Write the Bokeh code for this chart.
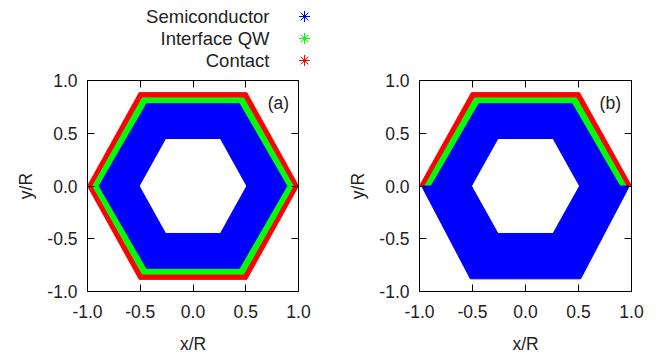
from bokeh.plotting import figure
from bokeh.layouts import column, row
from bokeh.models import Range1d, LinearAxis, FixedTicker, NumeralTickFormatter
from bokeh.core.properties import value
from bokeh.embed import file_html
from bokeh.resources import INLINE

FONT = "Liberation Sans"

# Region labels and colours
REGIONS = ["Semiconductor", "Interface QW", "Contact"]
COLORS = ["#0000ff", "#00ff00", "#ff0000"]

# Axis ticks
TICKS = [-1.0, -0.5, 0.0, 0.5, 1.0]

# (a): full hexagonal shell, vertex outlines (x/R, y/R)
CONTACT_OUT_X = [-1.0, -0.51, 0.51, 1.0, 0.51, -0.51]
CONTACT_OUT_Y = [0.0, 0.885, 0.885, 0.0, -0.885, -0.885]
QW_OUT_X = [-0.95, -0.48, 0.48, 0.95, 0.48, -0.48]
QW_OUT_Y = [0.0, 0.835, 0.835, 0.0, -0.835, -0.835]
CORE_OUT_X = [-0.89, -0.44, 0.44, 0.89, 0.44, -0.44]
CORE_OUT_Y = [0.0, 0.78, 0.78, 0.0, -0.78, -0.78]
HOLE_X = [-0.51, -0.26, 0.26, 0.51, 0.26, -0.26]
HOLE_Y = [0.0, 0.45, 0.45, 0.0, -0.45, -0.45]

# (b): contact and QW only on the upper facets
B_CONTACT_X = [-1.0, -0.51, 0.51, 1.0, 0.95, 0.48, -0.48, -0.95]
B_CONTACT_Y = [0.0, 0.885, 0.885, 0.0, 0.0, 0.835, 0.835, 0.0]
B_QW_X = [-0.95, -0.48, 0.48, 0.95, 0.89, 0.44, -0.44, -0.89]
B_QW_Y = [0.0, 0.835, 0.835, 0.0, 0.0, 0.78, 0.78, 0.0]
B_CORE_X = [-0.98, -0.89, -0.44, 0.44, 0.89, 0.98, 0.52, -0.52]
B_CORE_Y = [0.0, 0.0, 0.78, 0.78, 0.0, 0.0, -0.88, -0.88]

PANEL_LABELS = ["(a)", "(b)"]
LABEL_POS = [(0.81, 0.79), (0.80, 0.79)]


def style_axis(ax, show_labels):
    ax.ticker = FixedTicker(ticks=TICKS)
    ax.formatter = NumeralTickFormatter(format="0.0")
    ax.major_tick_in = 7
    ax.major_tick_out = 0
    ax.minor_tick_line_color = None
    ax.axis_line_color = "black"
    ax.major_tick_line_color = "black"
    ax.major_label_text_font = FONT
    ax.major_label_text_font_size = "17.5px"
    ax.major_label_text_color = "#222222" if show_labels else None
    ax.axis_label_text_font = FONT
    ax.axis_label_text_font_size = "17.5px"
    ax.axis_label_text_font_style = "normal"
    ax.axis_label_text_color = "#222222"


def make_panel(width, left, right, label, pos, polys):
    p = figure(width=width, height=284, x_range=Range1d(-1, 1), y_range=Range1d(-1, 1),
               output_backend="svg", toolbar_location=None,
               min_border_left=left, min_border_right=right,
               min_border_top=8, min_border_bottom=65)
    p.grid.visible = False
    p.outline_line_color = "black"
    p.background_fill_color = "white"
    for xs, ys, c in polys:
        p.multi_polygons(xs=[xs], ys=[ys], fill_color=c, line_color=c, line_width=1)
    p.xaxis.axis_label = "x/R"
    p.yaxis.axis_label = "y/R"
    style_axis(p.xaxis[0], True)
    style_axis(p.yaxis[0], True)
    p.xaxis.major_label_standoff = 13
    p.xaxis.axis_label_standoff = 13
    p.yaxis.major_label_standoff = 10
    p.yaxis.axis_label_standoff = 8
    top = LinearAxis()
    rgt = LinearAxis()
    style_axis(top, False)
    style_axis(rgt, False)
    p.add_layout(top, "above")
    p.add_layout(rgt, "right")
    p.text(x=[pos[0]], y=[pos[1]], text=[label], text_font=value(FONT),
           text_font_size="17.5px", text_align="center", text_baseline="middle",
           text_color="#222222")
    return p


polys_a = [
    ([[CONTACT_OUT_X, QW_OUT_X]], [[CONTACT_OUT_Y, QW_OUT_Y]], COLORS[2]),
    ([[QW_OUT_X, CORE_OUT_X]], [[QW_OUT_Y, CORE_OUT_Y]], COLORS[1]),
    ([[CORE_OUT_X, HOLE_X]], [[CORE_OUT_Y, HOLE_Y]], COLORS[0]),
]
polys_b = [
    ([[B_CONTACT_X]], [[B_CONTACT_Y]], COLORS[2]),
    ([[B_QW_X]], [[B_QW_Y]], COLORS[1]),
    ([[B_CORE_X, HOLE_X]], [[B_CORE_Y, HOLE_Y]], COLORS[0]),
]

pa = make_panel(330, 87, 32, PANEL_LABELS[0], LABEL_POS[0], polys_a)
pb = make_panel(328, 89, 27, PANEL_LABELS[1], LABEL_POS[1], polys_b)

# Key drawn above the panels: right-aligned names followed by a marker
key = figure(width=658, height=72, x_range=Range1d(0, 658), y_range=Range1d(72, 0),
             output_backend="svg", toolbar_location=None,
             min_border=0, outline_line_color=None)
key.axis.visible = False
key.grid.visible = False
rows_y = [16, 38, 60]
key.text(x=[269] * 3, y=rows_y, text=REGIONS, text_font=value(FONT),
         text_font_size="18.5px", text_align="right", text_baseline="middle",
         text_color="#222222")
key.scatter(x=[304] * 3, y=rows_y, marker="asterisk", size=11,
            line_color=COLORS, line_width=1)

layout = column(key, row(pa, pb))
open("out.html", "w").write(file_html(layout, INLINE))
